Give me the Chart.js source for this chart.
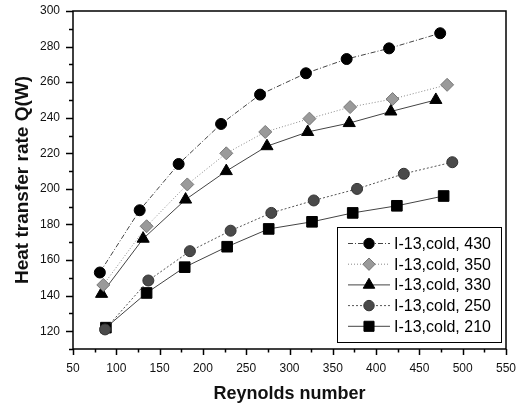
<!DOCTYPE html>
<html>
<head>
<meta charset="utf-8">
<script src="https://cdn.jsdelivr.net/npm/chart.js@4/dist/chart.umd.min.js"></script>
<style>
  html, body { margin: 0; padding: 0; background: #fff; }
  #wrap { width: 523px; height: 406px; }
</style>
</head>
<body>
<div id="wrap"><canvas id="heatChart" width="523" height="406"></canvas></div>
<script>
// values
const re430 = [81, 127, 172, 221, 266, 319, 366, 415, 474];
const q430 = [153, 188, 214, 236.5, 253, 265, 273, 279, 287.5];
const re350 = [85, 135, 182, 227, 272, 323, 370, 419, 482];
const q350 = [146, 179, 202.5, 220, 232, 239.5, 246, 250.5, 258.5];
const re330 = [83, 131, 180, 227, 274, 321, 369, 417, 469];
const q330 = [141, 172, 194, 210, 224, 232, 237, 243.5, 250];
const re250 = [87, 137, 185, 232, 279, 328, 378, 432, 488];
const q250 = [121, 148.5, 165, 176.5, 186.5, 193.5, 200, 208.5, 215];
const re210 = [88, 135, 179, 228, 276, 326, 373, 424, 478];
const q210 = [122, 141.5, 156, 167.5, 177.5, 181.5, 186.5, 190.5, 196];

const seriesNames = ["I-13,cold, 430", "I-13,cold, 350", "I-13,cold, 330", "I-13,cold, 250", "I-13,cold, 210"];
const xTicks = [50, 100, 150, 200, 250, 300, 350, 400, 450, 500, 550];
const yTicks = [120, 140, 160, 180, 200, 220, 240, 260, 280, 300];

const FONT = "'Liberation Sans', Arial, sans-serif";

function toPoints(xs, ys) {
  return xs.map((x, i) => ({ x: x, y: ys[i] }));
}

const styles = [
  { pointStyle: "circle", radius: 5.5, bg: "#000", border: "#000", line: "#444", dash: [5, 2, 1, 2] },
  { pointStyle: "rectRot", radius: 6.5, bg: "#9a9a9a", border: "#777", line: "#888", dash: [1, 2] },
  { pointStyle: "triangle", radius: 7, bg: "#000", border: "#000", line: "#444", dash: [] },
  { pointStyle: "circle", radius: 5.5, bg: "#4a4a4a", border: "#333", line: "#555", dash: [2, 2] },
  { pointStyle: "rect", radius: 7.5, bg: "#000", border: "#000", line: "#444", dash: [] },
];

const allData = [
  toPoints(re430, q430),
  toPoints(re350, q350),
  toPoints(re330, q330),
  toPoints(re250, q250),
  toPoints(re210, q210),
];

const datasets = allData.map((d, i) => ({
  label: seriesNames[i],
  data: d,
  showLine: true,
  borderColor: styles[i].line,
  borderWidth: 1,
  borderDash: styles[i].dash,
  pointStyle: styles[i].pointStyle,
  pointRadius: styles[i].radius,
  pointBackgroundColor: styles[i].bg,
  pointBorderColor: styles[i].border,
  pointBorderWidth: 1,
  tension: 0,
}));

// frame, minor ticks and the boxed legend inside the plot
const framePlugin = {
  id: "frame",
  afterDraw(chart) {
    const { ctx, chartArea: a, scales } = chart;
    ctx.save();
    ctx.strokeStyle = "#000";
    ctx.lineWidth = 1.5;
    ctx.strokeRect(a.left, a.top, a.right - a.left, a.bottom - a.top);

    ctx.beginPath();
    for (let v = 50; v <= 550; v += 25) {
      const px = Math.round(scales.x.getPixelForValue(v)) + 0.5;
      const len = v % 50 === 0 ? 6 : 3.5;
      ctx.moveTo(px, a.bottom);
      ctx.lineTo(px, a.bottom + len);
    }
    for (let v = 110; v <= 300; v += 10) {
      const py = Math.round(scales.y.getPixelForValue(v)) + 0.5;
      const len = v % 20 === 0 ? 7 : 4;
      ctx.moveTo(a.left, py);
      ctx.lineTo(a.left - len, py);
    }
    ctx.stroke();

    // legend box
    const bx = a.right - 169, by = a.bottom - 122, bw = 164, bh = 115;
    ctx.fillStyle = "#fff";
    ctx.fillRect(bx, by, bw, bh);
    ctx.lineWidth = 1;
    ctx.strokeStyle = "#000";
    ctx.strokeRect(bx + 0.5, by + 0.5, bw, bh);
    ctx.font = "16px " + FONT;
    ctx.textBaseline = "middle";
    seriesNames.forEach((name, i) => {
      const st = styles[i];
      const y = by + 16.5 + i * 20.7;
      ctx.save();
      ctx.strokeStyle = st.line;
      ctx.setLineDash(st.dash);
      ctx.beginPath();
      ctx.moveTo(bx + 11, y);
      ctx.lineTo(bx + 53, y);
      ctx.stroke();
      ctx.restore();
      ctx.fillStyle = st.bg;
      ctx.strokeStyle = st.border;
      ctx.lineWidth = 1;
      Chart.helpers.drawPoint(ctx, { pointStyle: st.pointStyle, radius: st.radius * 0.95, rotation: 0, borderWidth: 1 }, bx + 32, y);
      ctx.fillStyle = "#000";
      ctx.fillText(name, bx + 57, y + 1);
    });
    ctx.restore();
  },
};

const ctx = document.getElementById("heatChart").getContext("2d");
const chart = new Chart(ctx, {
  type: "scatter",
  data: { datasets: datasets },
  options: {
    responsive: false,
    animation: false,
    layout: { padding: { top: 11, right: 17, left: 0, bottom: 0 } },
    scales: {
      x: {
        type: "linear",
        min: 50,
        max: 550,
        afterBuildTicks: (scale) => { scale.ticks = xTicks.map((v) => ({ value: v })); },
        afterFit: (scale) => {
          scale.height = 57;
          scale.paddingLeft = 0;
          scale.paddingRight = 0;
        },
        grid: { drawOnChartArea: false, drawTicks: false },
        border: { display: false },
        ticks: { color: "#111", font: { family: FONT, size: 12 }, padding: 12, maxRotation: 0 },
        title: {
          display: true,
          text: "Reynolds number",
          color: "#111",
          font: { family: FONT, size: 18, weight: "bold" },
          padding: { top: 4, bottom: 1 },
        },
      },
      y: {
        type: "linear",
        min: 110,
        max: 300,
        afterBuildTicks: (scale) => { scale.ticks = yTicks.map((v) => ({ value: v })); },
        afterFit: (scale) => {
          scale.width = 73;
          scale.paddingTop = 0;
          scale.paddingBottom = 0;
        },
        grid: { drawOnChartArea: false, drawTicks: false },
        border: { display: false },
        ticks: { color: "#111", font: { family: FONT, size: 12 }, padding: 13 },
        title: {
          display: true,
          text: "Heat transfer rate Q(W)",
          color: "#111",
          font: { family: FONT, size: 19, weight: "bold" },
          padding: { top: 11, bottom: 4 },
        },
      },
    },
    plugins: {
      legend: { display: false },
      tooltip: { enabled: false },
    },
  },
  plugins: [framePlugin],
});
</script>
</body>
</html>
